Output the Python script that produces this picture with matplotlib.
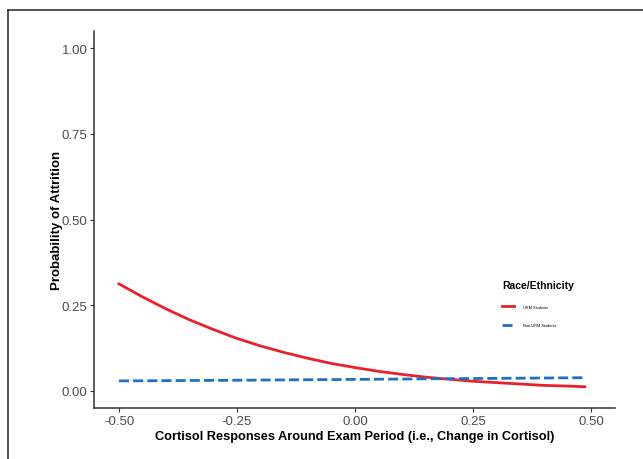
import matplotlib
matplotlib.use('Agg')
import matplotlib.pyplot as plt
from matplotlib.lines import Line2D

plt.rcParams['font.family'] = ['Liberation Sans', 'DejaVu Sans']

# values
cortisol = [-0.50, -0.45, -0.40, -0.35, -0.30, -0.25, -0.20, -0.15, -0.10, -0.05,
            0.00, 0.05, 0.10, 0.15, 0.20, 0.25, 0.30, 0.35, 0.40, 0.45, 0.487]
urm_prob = [0.312, 0.274, 0.239, 0.207, 0.179, 0.153, 0.131, 0.112, 0.095, 0.080,
            0.068, 0.057, 0.048, 0.040, 0.034, 0.028, 0.024, 0.020, 0.016, 0.014, 0.012]
non_urm_prob = [0.029, 0.0294, 0.0298, 0.0302, 0.0306, 0.031, 0.0315, 0.032, 0.0325, 0.033,
                0.0335, 0.034, 0.0345, 0.035, 0.0355, 0.036, 0.0365, 0.037, 0.0375, 0.038, 0.0385]

x_ticks = [-0.50, -0.25, 0.00, 0.25, 0.50]
y_ticks = [0.00, 0.25, 0.50, 0.75, 1.00]
groups = ['URM Students', 'Non-URM Students']

fig = plt.figure(figsize=(6.43, 4.60), dpi=100)
ax = fig.add_axes([94 / 643, 51 / 460, (615 - 94) / 643, (409 - 32) / 460])

ax.plot(cortisol, urm_prob, color='#e8222a', lw=2.0, label=groups[0])
ax.plot(cortisol, non_urm_prob, color='#1f6fc2', lw=2.0, dashes=(3.6, 1.5), label=groups[1])

ax.set_xlim(-0.553, 0.551)
ax.set_ylim(-0.05, 1.05)
ax.set_xticks(x_ticks)
ax.set_xticklabels([f'{v:.2f}' for v in x_ticks])
ax.set_yticks(y_ticks)
ax.set_yticklabels([f'{v:.2f}' for v in y_ticks])
ax.tick_params(labelsize=9.5, labelcolor='#4d4d4d', color='#333333', length=3, width=0.8)
ax.tick_params(axis='x', pad=2)
ax.tick_params(axis='y', pad=1.5)

for side in ['top', 'right']:
    ax.spines[side].set_visible(False)
for side in ['left', 'bottom']:
    ax.spines[side].set_color('#333333')
    ax.spines[side].set_linewidth(1.1)

ax.set_xlabel('Cortisol Responses Around Exam Period (i.e., Change in Cortisol)',
              fontsize=9.2, fontweight='bold', labelpad=2)
ax.set_ylabel('Probability of Attrition', fontsize=9.5, fontweight='bold', labelpad=-1)

leg = ax.legend(title='Race/Ethnicity', loc='upper left',
                bbox_to_anchor=(500 / 643, 1 - 279.5 / 460), bbox_transform=fig.transFigure,
                frameon=False, fontsize=2.8, borderpad=0, labelspacing=3.7,
                handlelength=3.2, handletextpad=2.1,
                title_fontproperties={'weight': 'bold', 'size': 7.5})
leg._legend_box.align = 'left'

# outer frame (only top and left edges visible)
fig.add_artist(Line2D([8 / 643, 1], [1 - 10.5 / 460, 1 - 10.5 / 460],
                      transform=fig.transFigure, color='#222222', lw=1.1))
fig.add_artist(Line2D([8 / 643, 8 / 643], [0, 1 - 10.5 / 460],
                      transform=fig.transFigure, color='#222222', lw=1.1))

fig.savefig('out.png', dpi=100)
